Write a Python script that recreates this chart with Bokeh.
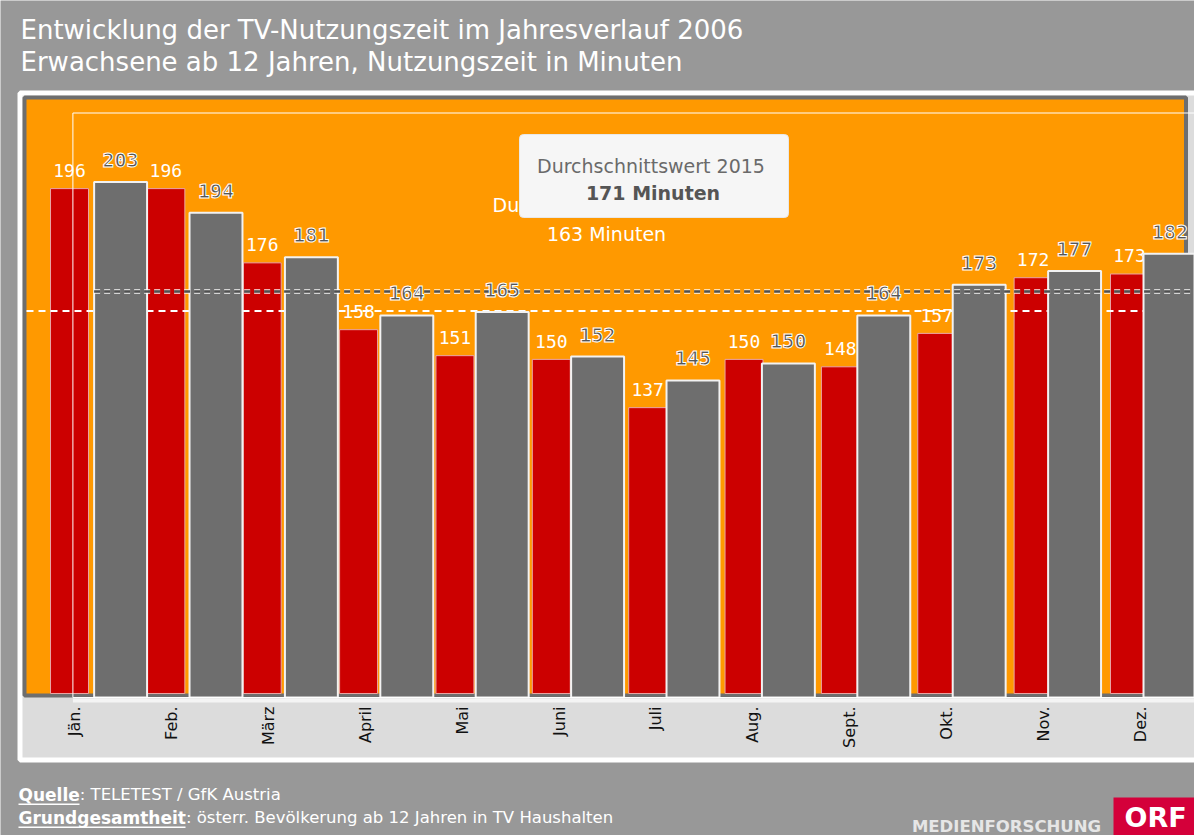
import math
from bokeh.plotting import figure
from bokeh.models import Range1d, BoxAnnotation, Label, ColumnDataSource
from bokeh.embed import file_html
from bokeh.resources import INLINE
from bokeh.core.properties import value

# ---- data -------------------------------------------------------------
months = ["Jän.", "Feb.", "März", "April", "Mai", "Juni",
          "Juli", "Aug.", "Sept.", "Okt.", "Nov.", "Dez."]
tv_2006 = [196, 196, 176, 158, 151, 150, 137, 150, 148, 157, 172, 173]
tv_2015 = [203, 194, 181, 164, 165, 152, 145, 150, 164, 173, 177, 182]
avg_2006 = 163
avg_2015 = 171

title_1 = "Entwicklung der TV-Nutzungszeit im Jahresverlauf 2006"
title_2 = "Erwachsene ab 12 Jahren, Nutzungszeit in Minuten"
avg_label_2006 = ("Durchschnittswert 2006", "163 Minuten")
avg_label_2015 = ("Durchschnittswert  2015", "171 Minuten")
source_1 = ("Quelle", ": TELETEST / GfK Austria")
source_2 = ("Grundgesamtheit", ": österr. Bevölkerung ab 12 Jahren in TV Haushalten")

# axis settings of the two overlaid charts
base_2006 = 60        # bottom of the 2006 value axis
base_2015 = 52.4      # bottom of the 2015 value axis
plot_x_2006 = (-0.4462, 11.566)   # horizontal extent of the 2006 plot area

# ---- figure (frame = whole canvas) -------------------------------------
idx = list(range(len(months)))
W, H = 1194, 835
p = figure(width=W, height=H, output_backend="svg", toolbar_location=None,
           x_range=Range1d(-0.7683, 11.5625), y_range=Range1d(21.75, 246.67),
           x_axis_location=None, y_axis_location=None,
           min_border_left=0, min_border_right=0, min_border_top=0, min_border_bottom=0)
p.title.visible = False
p.extra_x_ranges = {"red": Range1d(-0.7161, 11.675), "grey": Range1d(-0.7589, 11.757)}
p.extra_y_ranges = {"grey": Range1d(12.05, 256.03)}
p.grid.visible = False
p.outline_line_color = None
p.background_fill_color = "#989898"
p.border_fill_color = "#989898"

S = dict(left_units="screen", right_units="screen", top_units="screen", bottom_units="screen")


def box(l, r, t, b, fill, line=None, lw=1, level="underlay", alpha=1.0, **kw):
    p.add_layout(BoxAnnotation(left=l, right=r, top=t, bottom=b, **S,
                               fill_color=fill, fill_alpha=alpha if fill else 0,
                               line_color=line, line_alpha=1, line_width=lw,
                               level=level, **kw))


def lab(x, y, text, size, color="white", style="normal", align="left", font="DejaVu Sans"):
    # y is the vertical centre of the text line
    p.add_layout(Label(x=x, y=y, x_units="screen", y_units="screen", text=text,
                       text_color=color, text_font=font,
                       text_font_size=size, text_font_style=style,
                       text_align=align, text_baseline="middle"))


# panel with white border and light grey fill
box(19.5, 1205, 742.5, 75.5, "#dcdcdc", "white", 5)
# orange plot area with dark grey border
box(24, 1185.5, 738, 140, "#ff9900", "#6e6e6e", 4)
# white axis strip
box(72.4, 1205, 137, 133, "#f4f4f4")

# ---- 2006 series (red) ------------------------------------------------
src_r = ColumnDataSource(dict(x=idx, top=tv_2006, label=[str(v) for v in tv_2006]))
p.vbar(x="x", top="top", bottom=base_2006, width=0.394, source=src_r, x_range_name="red",
       fill_color="#cc0000", line_color="#eaa5a5", line_width=1)
p.line(x=list(plot_x_2006), y=[avg_2006, avg_2006], x_range_name="red",
       line_color="white", line_width=2, line_dash="7 5")
p.text(x="x", y="top", text="label", source=src_r, x_range_name="red",
       text_color="white", text_font=value("DejaVu Sans Mono"), text_font_size="18px",
       text_align="center", text_baseline="middle", y_offset=-18)

# month labels (category axis of the 2006 chart)
src_m = ColumnDataSource(dict(x=idx, y=[base_2006] * len(months), m=months))
p.text(x="x", y="y", text="m", source=src_m, angle=math.pi / 2,
       text_color="#111111", text_font=value("DejaVu Sans"), text_font_size="16px",
       text_align="right", text_baseline="middle", y_offset=13)

# 2006 average text (mostly hidden behind the 2015 box)
lab(606, 631, avg_label_2006[0], "19px", align="center")
lab(606, 601.5, avg_label_2006[1], "19px", align="center")

# frame outline of the overlaid 2015 chart
box(72.4, 1260, 722.5, 138, None, "white", 1, level="annotation")

# ---- 2015 series (grey) -----------------------------------------------
gw = 0.555
src_g = ColumnDataSource(dict(x=[i + 0.5 for i in idx], top=tv_2015,
                              label=[str(v) for v in tv_2015]))
p.vbar(x="x", top="top", bottom=base_2015, width=gw, source=src_g,
       x_range_name="grey", y_range_name="grey",
       fill_color="#6e6e6e", line_color="#f2f2f2", line_width=2)
gx = p.extra_x_ranges["grey"]
gxs = [src_g.data["x"][0] - gw / 2, gx.end]
p.line(x=gxs, y=[avg_2015, avg_2015], x_range_name="grey", y_range_name="grey",
       line_color="white", line_alpha=0.7, line_width=5, line_dash="6 4")
p.line(x=gxs, y=[avg_2015, avg_2015], x_range_name="grey", y_range_name="grey",
       line_color="#505050", line_width=2.5, line_dash="6 4")
p.text(x="x", y="top", text="label", source=src_g, x_range_name="grey", y_range_name="grey",
       text_color="#555555", text_outline_color="white",
       text_font=value("DejaVu Sans Mono"), text_font_style="bold", text_font_size="20px",
       text_align="center", text_baseline="middle", y_offset=-22)

# 2015 average box
box(519, 788, 701, 618, "#f6f6f6", "#e8e8e8", 1, level="annotation", border_radius=4)
lab(653.5, 669.5, avg_label_2015[0], "19px", color="#6a6a6a", align="center")
lab(652.5, 642.5, avg_label_2015[1], "19px", color="#555555", style="bold", align="center")

# ---- titles & footer ----------------------------------------------------
lab(20, 806, title_1, "26px")
lab(20, 774, title_2, "26px")

lab(18, 41, source_1[0], "17px", style="bold")
lab(79.3, 41, source_1[1], "16.5px")
lab(18, 18, source_2[0], "17px", style="bold")
lab(185.4, 18, source_2[1], "16.5px")
box(18, 79, 32, 30.5, "white", level="annotation")
box(18, 185, 9, 7.5, "white", level="annotation")

lab(1006, 9.5, "MEDIENFORSCHUNG", "16.5px", color="#e6e6e6", style="bold", align="center")
box(1113, 1210, 38, -10, "#d4003a", level="annotation")
lab(1124, 18.5, "ORF", "27px", style="bold")

open("out.html", "w").write(file_html(p, INLINE))
